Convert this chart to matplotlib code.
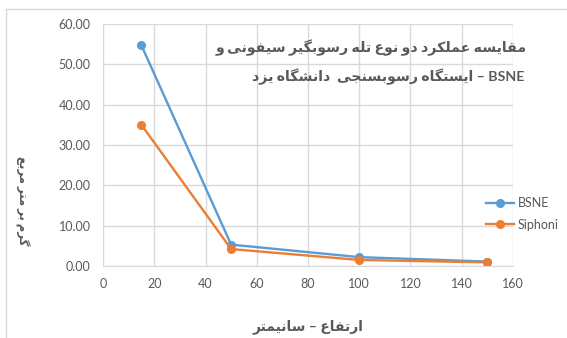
import matplotlib
matplotlib.use("Agg")
import matplotlib.pyplot as plt
from matplotlib.lines import Line2D

# data: sediment catch (g/m2) at each height (cm)
heights = [15, 50, 100, 150]
bsne = [54.7, 5.3, 2.2, 1.1]
siphoni = [35.0, 4.2, 1.5, 0.9]
series_names = ["BSNE", "Siphoni"]
series_colors = ["#5B9BD5", "#ED7D31"]

title_1 = "مقایسه عملکرد دو نوع تله رسوبگیر سیفونی و"
title_2 = "ایستگاه رسوبسنجی  دانشگاه یزد"
x_title = "ارتفاع – سانیمتر"
y_title = "گرم بر متر مربع"

# presentation forms: isolated, final, initial, medial
FORMS = {
    'ا': ('\uFE8D', '\uFE8E', None, None),
    'ب': ('\uFE8F', '\uFE90', '\uFE91', '\uFE92'),
    'پ': ('\uFB56', '\uFB57', '\uFB58', '\uFB59'),
    'ت': ('\uFE95', '\uFE96', '\uFE97', '\uFE98'),
    'ج': ('\uFE9D', '\uFE9E', '\uFE9F', '\uFEA0'),
    'چ': ('\uFB7A', '\uFB7B', '\uFB7C', '\uFB7D'),
    'د': ('\uFEA9', '\uFEAA', None, None),
    'ر': ('\uFEAD', '\uFEAE', None, None),
    'ز': ('\uFEAF', '\uFEB0', None, None),
    'س': ('\uFEB1', '\uFEB2', '\uFEB3', '\uFEB4'),
    'ش': ('\uFEB5', '\uFEB6', '\uFEB7', '\uFEB8'),
    'ع': ('\uFEC9', '\uFECA', '\uFECB', '\uFECC'),
    'ف': ('\uFED1', '\uFED2', '\uFED3', '\uFED4'),
    'ق': ('\uFED5', '\uFED6', '\uFED7', '\uFED8'),
    'ک': ('\uFB8E', '\uFB8F', '\uFB90', '\uFB91'),
    'گ': ('\uFB92', '\uFB93', '\uFB94', '\uFB95'),
    'ل': ('\uFEDD', '\uFEDE', '\uFEDF', '\uFEE0'),
    'م': ('\uFEE1', '\uFEE2', '\uFEE3', '\uFEE4'),
    'ن': ('\uFEE5', '\uFEE6', '\uFEE7', '\uFEE8'),
    'ه': ('\uFEE9', '\uFEEA', '\uFEEB', '\uFEEC'),
    'و': ('\uFEED', '\uFEEE', None, None),
    'ی': ('\uFBFC', '\uFBFD', '\uFBFE', '\uFBFF'),
}


def shape(s):
    out = []
    for i, c in enumerate(s):
        if c not in FORMS:
            out.append(c)
            continue
        prev = s[i - 1] if i > 0 else ''
        nxt = s[i + 1] if i + 1 < len(s) else ''
        join_prev = prev in FORMS and FORMS[prev][2] is not None
        join_next = nxt in FORMS and FORMS[c][2] is not None
        iso, fin, ini, med = FORMS[c]
        if join_prev and join_next:
            out.append(med)
        elif join_prev:
            out.append(fin)
        elif join_next:
            out.append(ini)
        else:
            out.append(iso)
    return ''.join(out)[::-1]


plt.rcParams['font.family'] = ['Lato', 'DejaVu Sans']
grey = "#595959"
grid = "#D9D9D9"

fig = plt.figure(figsize=(5.67, 3.38), dpi=100)
ax = fig.add_axes([103 / 567, 1 - 266 / 338, 410 / 567, 242 / 338])

for vals, name, col in zip([bsne, siphoni], series_names, series_colors):
    ax.plot(heights, vals, color=col, lw=1.7, marker='o', ms=5.5, label=name)

ax.set_xlim(0, 160)
ax.set_ylim(0, 60)
ax.set_xticks(range(0, 161, 20))
ax.set_yticks(range(0, 61, 10))
ax.set_yticklabels([f"{v:.2f}" for v in range(0, 61, 10)])
ax.grid(True, color=grid, lw=1)
ax.set_axisbelow(True)
for sp in ['left', 'right', 'top']:
    ax.spines[sp].set_visible(False)
ax.spines['bottom'].set_color(grid)
ax.tick_params(length=0, colors=grey, labelsize=9, pad=9)

# chart titles
fig.text(527 / 567, 1 - 48 / 338, shape(title_1), ha='right', va='center',
         fontsize=10.2, fontweight='bold', color=grey)
fig.text(524 / 567, 1 - 77 / 338, shape(title_2) + " – BSNE", ha='right', va='center',
         fontsize=10.2, fontweight='bold', color=grey)
fig.text(308 / 567, 1 - 327 / 338, shape(x_title), ha='center', va='center',
         fontsize=10, fontweight='bold', color=grey)
fig.text(22 / 567, 1 - 201 / 338, shape(y_title), ha='center', va='center',
         rotation=270, fontsize=8.5, fontweight='bold', color=grey)

fig.legend(loc='center left', bbox_to_anchor=(475 / 567, 1 - 214 / 338),
           frameon=False, fontsize=9, labelcolor=grey, handlelength=2.2,
           labelspacing=0.75, handletextpad=0.3)

# outer frame
fig.add_artist(Line2D([6 / 567, 1], [1 - 9 / 338] * 2, color=grid, lw=1))
fig.add_artist(Line2D([6 / 567] * 2, [0, 1 - 9 / 338], color=grid, lw=1))

fig.savefig("out.png", dpi=100)
